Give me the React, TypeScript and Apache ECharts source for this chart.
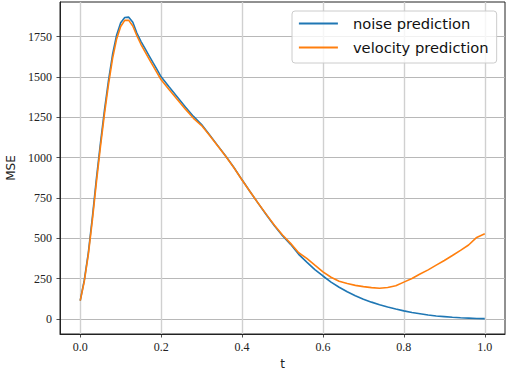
import React, { useEffect, useRef } from "react";
import * as echarts from "echarts";

const tValues = [
  0, 0.01, 0.02, 0.03, 0.04, 0.05, 0.06, 0.07, 0.08, 0.09, 0.1, 0.11, 0.12, 0.13, 0.14, 0.15, 0.16, 0.17, 0.18, 0.19, 0.2,
  0.22, 0.24, 0.26, 0.28, 0.3, 0.32, 0.34, 0.36, 0.38, 0.4, 0.42, 0.44, 0.46, 0.48, 0.5, 0.52, 0.54, 0.56, 0.58, 0.6,
  0.62, 0.64, 0.66, 0.68, 0.7, 0.72, 0.74, 0.76, 0.78, 0.8, 0.82, 0.84, 0.86, 0.88, 0.9, 0.92, 0.94, 0.96, 0.98, 1.0,
];

const noisePrediction = [
  113, 240, 410, 630, 870, 1090, 1295, 1480, 1640, 1760, 1835, 1868, 1870, 1838, 1772, 1720, 1676, 1632, 1588, 1545, 1500,
  1437, 1375, 1313, 1255, 1205, 1140, 1074, 1008, 938, 862, 788, 716, 646, 577, 515, 462, 400, 352, 306, 266,
  228, 196, 168, 144, 122, 104, 88, 74, 61, 50, 40, 32, 24, 18, 14, 10, 7, 5, 3, 2,
];

const velocityPrediction = [
  113, 232, 398, 612, 848, 1068, 1272, 1455, 1615, 1735, 1812, 1850, 1850, 1815, 1755, 1702, 1656, 1612, 1568, 1525, 1482,
  1420, 1360, 1300, 1243, 1198, 1137, 1072, 1006, 937, 861, 788, 717, 648, 580, 520, 468, 410, 375, 333, 292,
  258, 234, 220, 208, 200, 194, 190, 195, 205, 228, 250, 278, 304, 333, 362, 393, 425, 458, 505, 528,
];

const xTicks = [0, 0.2, 0.4, 0.6, 0.8, 1.0];
const yTicks = [0, 250, 500, 750, 1000, 1250, 1500, 1750];

const seriesNames = ["noise prediction", "velocity prediction"];
const seriesColors = ["#1f77b4", "#ff7f0e"];

const SERIF = "'Liberation Serif', 'Times New Roman', serif";
const SANS = "'DejaVu Sans', sans-serif";

export default function App() {
  const ref = useRef<HTMLDivElement>(null);

  useEffect(() => {
    if (!ref.current) return;
    const chart = echarts.init(ref.current, null, { renderer: "svg" });
    const seriesData = [noisePrediction, velocityPrediction];
    chart.setOption({
      animation: false,
      backgroundColor: "#ffffff",
      textStyle: { fontFamily: SERIF, fontSize: 12, color: "#222" },
      grid: {
        left: 60,
        right: 5,
        top: 2,
        bottom: 39,
        containLabel: false,
        outerBoundsMode: "none",
        show: true,
        borderColor: "#222",
        borderWidth: 1,
        backgroundColor: "transparent",
      },
      xAxis: {
        type: "value",
        min: -0.05,
        max: 1.05,
        name: "t",
        nameLocation: "middle",
        nameGap: 23,
        nameTextStyle: { fontFamily: SANS, fontSize: 12, color: "#222" },
        axisLine: { show: true, onZero: false, lineStyle: { color: "#222", width: 1 } },
        axisTick: { show: true, customValues: xTicks, length: 3.5, inside: false, lineStyle: { color: "#222", width: 0.8 } },
        axisLabel: {
          show: true,
          customValues: xTicks,
          margin: 7,
          formatter: (v: number) => v.toFixed(1),
          fontFamily: SERIF,
          fontSize: 12,
          color: "#222",
        },
        splitLine: { show: true, lineStyle: { color: "#d0d0d0", width: 1.4 } },
      },
      yAxis: {
        type: "value",
        min: -93.5,
        max: 1964,
        name: "MSE",
        nameLocation: "middle",
        nameGap: 38,
        nameRotate: 90,
        nameTextStyle: { fontFamily: SANS, fontSize: 12, color: "#222" },
        axisLine: { show: true, onZero: false, lineStyle: { color: "#222", width: 1 } },
        axisTick: { show: true, customValues: yTicks, length: 3.5, inside: false, lineStyle: { color: "#222", width: 0.8 } },
        axisLabel: {
          show: true,
          customValues: yTicks,
          margin: 8,
          formatter: (v: number) => String(Math.round(v)),
          fontFamily: SERIF,
          fontSize: 12,
          color: "#222",
        },
        splitLine: { show: true, lineStyle: { color: "#b8b8b8", width: 1 } },
      },
      legend: {
        show: true,
        orient: "vertical",
        left: 292,
        top: 11,
        padding: [5, 8, 8, 6],
        itemWidth: 39,
        itemHeight: 18,
        itemGap: 9,
        borderColor: "#cccccc",
        borderWidth: 1,
        borderRadius: 3,
        backgroundColor: "rgba(255,255,255,0.8)",
        itemStyle: { opacity: 0 },
        lineStyle: { width: 1.8 },
        textStyle: { fontFamily: SANS, fontSize: 14.7, color: "#111", padding: [0, 0, 0, 10] },
        data: seriesNames,
      },
      series: seriesNames.map((name, i) => ({
        name,
        type: "line",
        data: tValues.map((t, j) => [t, seriesData[i][j]]),
        symbol: "none",
        showSymbol: false,
        smooth: false,
        lineStyle: { color: seriesColors[i], width: 1.6 },
        itemStyle: { color: seriesColors[i] },
        z: 3 + i,
      })),
    });
    return () => chart.dispose();
  }, []);

  return (
    <div
      ref={ref}
      style={{ position: "fixed", left: 0, top: 0, width: 510, height: 373 }}
    />
  );
}
